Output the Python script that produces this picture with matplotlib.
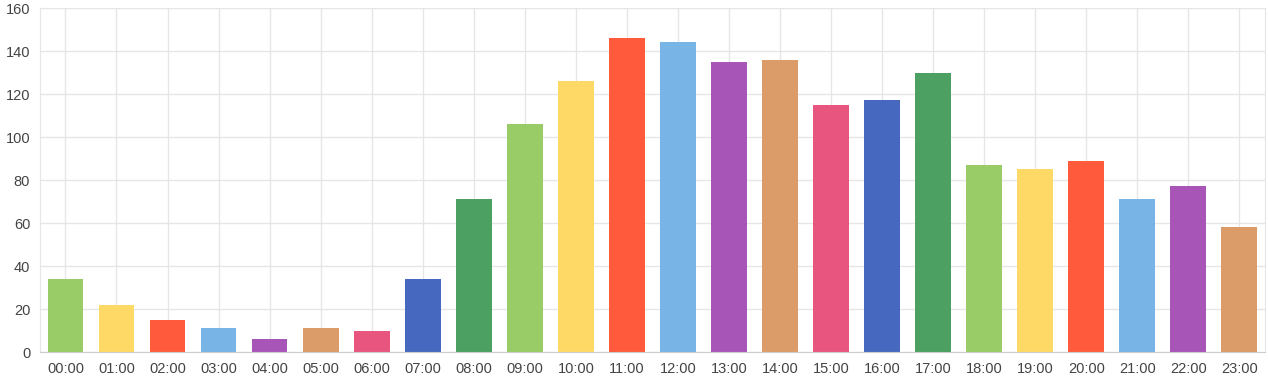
import matplotlib
matplotlib.use("Agg")
import matplotlib.pyplot as plt

hours = [f"{h:02d}:00" for h in range(24)]
counts = [34, 22, 15, 11, 6, 11, 10, 34, 71, 106, 126, 146,
          144, 135, 136, 115, 117, 130, 87, 85, 89, 71, 77, 58]
palette = ["#99CC66", "#FFD966", "#FF5A3C", "#78B4E6", "#A855B8",
           "#DB9C6A", "#E8557E", "#4668BE", "#4BA062"]

colors = [palette[i % len(palette)] for i in range(len(hours))]

plt.rcParams["font.family"] = ["Liberation Sans", "DejaVu Sans"]

fig = plt.figure(figsize=(12.68, 3.81), dpi=100)
ax = fig.add_axes([0.0315, 0.076, 0.966, 0.903])

x = range(len(hours))
ax.bar(x, counts, width=0.7, color=colors, zorder=2)

ax.set_xlim(-0.5, len(hours) - 0.5)
ax.set_ylim(0, 160)
ax.set_yticks(range(0, 161, 20))
ax.set_xticks(list(x))
ax.set_xticklabels(hours)

ax.grid(True, color="#e6e6e6", linewidth=1, zorder=0)
ax.set_axisbelow(True)
for side in ["top", "right"]:
    ax.spines[side].set_color("#e6e6e6")
ax.spines["left"].set_color("#e6e6e6")
ax.spines["bottom"].set_color("#cccccc")
ax.tick_params(length=0, labelsize=10.5, labelcolor="#444444", pad=7)

fig.savefig("out.png", dpi=100)
